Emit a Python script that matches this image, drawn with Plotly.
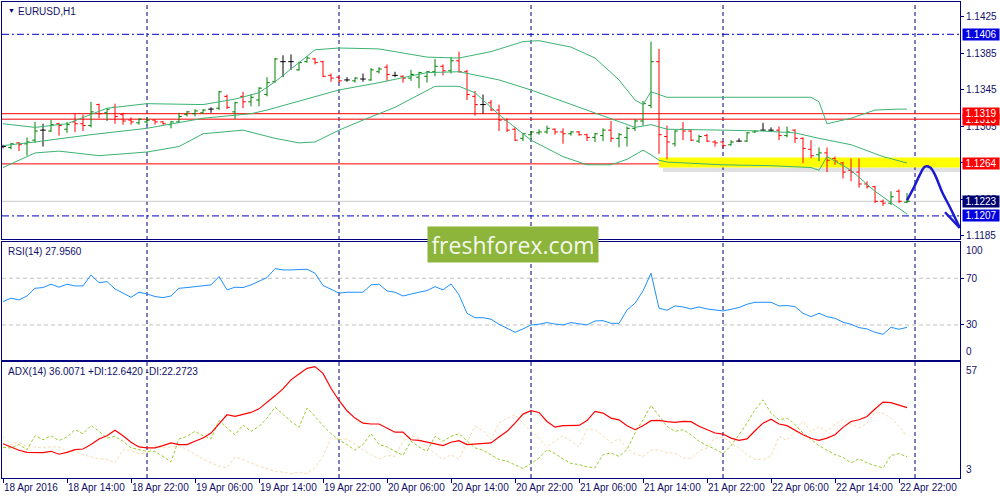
import numpy as np
import pandas as pd
import plotly.graph_objects as go
from plotly.subplots import make_subplots

# EURUSD H1 bars, 18 Apr 2016 06:00 .. 22 Apr 2016 23:00
bar_time = pd.date_range("2016-04-18 06:00", periods=114, freq="h")

opens = [1.1283, 1.1282, 1.1287, 1.1286, 1.1290, 1.1301, 1.1300, 1.1308, 1.1302, 1.1310,
         1.1308, 1.1306, 1.1329, 1.1320, 1.1326, 1.1318, 1.1312, 1.1309, 1.1310, 1.1312,
         1.1310, 1.1307, 1.1310, 1.1318, 1.1319, 1.1320, 1.1324, 1.1325, 1.1338, 1.1321,
         1.1338, 1.1332, 1.1334, 1.1340, 1.1354, 1.1376, 1.1376, 1.1367, 1.1376, 1.1379,
         1.1376, 1.1361, 1.1359, 1.1356, 1.1355, 1.1357, 1.1356, 1.1365, 1.1370, 1.1361,
         1.1360, 1.1358, 1.1359, 1.1360, 1.1365, 1.1371, 1.1366, 1.1377, 1.1365, 1.1338,
         1.1329, 1.1331, 1.1323, 1.1312, 1.1302, 1.1292, 1.1296, 1.1298, 1.1299, 1.1302,
         1.1299, 1.1297, 1.1299, 1.1296, 1.1293, 1.1295, 1.1301, 1.1292, 1.1293, 1.1303,
         1.1311, 1.1328, 1.1376, 1.1294, 1.1286, 1.1302, 1.1300, 1.1289, 1.1295, 1.1288,
         1.1288, 1.1285, 1.1289, 1.1289, 1.1299, 1.1301, 1.1301, 1.1301, 1.1295, 1.1301,
         1.1292, 1.1280, 1.1274, 1.1276, 1.1270, 1.1265, 1.1257, 1.1255, 1.1242, 1.1239,
         1.1223, 1.1221, 1.1234, 1.1222]
highs = [1.1285, 1.1287, 1.1288, 1.1293, 1.1310, 1.1308, 1.1312, 1.1309, 1.1310, 1.1319,
         1.1318, 1.1332, 1.1330, 1.1325, 1.1330, 1.1320, 1.1315, 1.1314, 1.1315, 1.1313,
         1.1311, 1.1311, 1.1320, 1.1322, 1.1324, 1.1324, 1.1326, 1.1344, 1.1340, 1.1332,
         1.1343, 1.1340, 1.1348, 1.1359, 1.1380, 1.1383, 1.1384, 1.1376, 1.1382, 1.1380,
         1.1377, 1.1363, 1.1360, 1.1359, 1.1359, 1.1363, 1.1369, 1.1370, 1.1373, 1.1365,
         1.1361, 1.1367, 1.1365, 1.1366, 1.1379, 1.1373, 1.1381, 1.1387, 1.1367, 1.1344,
         1.1340, 1.1334, 1.1329, 1.1314, 1.1304, 1.1298, 1.1300, 1.1302, 1.1306, 1.1303,
         1.1303, 1.1300, 1.1300, 1.1297, 1.1298, 1.1303, 1.1311, 1.1298, 1.1305, 1.1313,
         1.1333, 1.1398, 1.1390, 1.1306, 1.1301, 1.1310, 1.1302, 1.1296, 1.1297, 1.1290,
         1.1289, 1.1290, 1.1292, 1.1299, 1.1301, 1.1309, 1.1304, 1.1305, 1.1305, 1.1302,
         1.1293, 1.1290, 1.1282, 1.1282, 1.1272, 1.1266, 1.1270, 1.1270, 1.1245, 1.1240,
         1.1225, 1.1234, 1.1236, 1.1232]
lows = [1.1281, 1.1280, 1.1278, 1.1273, 1.1287, 1.1283, 1.1299, 1.1295, 1.1298, 1.1299,
        1.1300, 1.1304, 1.1314, 1.1311, 1.1308, 1.1307, 1.1307, 1.1307, 1.1307, 1.1307,
        1.1307, 1.1303, 1.1309, 1.1316, 1.1316, 1.1319, 1.1320, 1.1323, 1.1324, 1.1313,
        1.1325, 1.1327, 1.1327, 1.1338, 1.1353, 1.1359, 1.1367, 1.1366, 1.1375, 1.1373,
        1.1359, 1.1354, 1.1353, 1.1354, 1.1353, 1.1354, 1.1355, 1.1363, 1.1355, 1.1359,
        1.1353, 1.1355, 1.1347, 1.1353, 1.1360, 1.1361, 1.1363, 1.1364, 1.1334, 1.1317,
        1.1319, 1.1322, 1.1300, 1.1299, 1.1289, 1.1289, 1.1291, 1.1296, 1.1297, 1.1296,
        1.1286, 1.1295, 1.1295, 1.1289, 1.1288, 1.1289, 1.1288, 1.1282, 1.1283, 1.1300,
        1.1306, 1.1325, 1.1275, 1.1269, 1.1283, 1.1290, 1.1289, 1.1287, 1.1288, 1.1283,
        1.1281, 1.1284, 1.1288, 1.1288, 1.1298, 1.1300, 1.1299, 1.1290, 1.1293, 1.1287,
        1.1265, 1.1270, 1.1267, 1.1255, 1.1263, 1.1248, 1.1245, 1.1238, 1.1237, 1.1221,
        1.1218, 1.1219, 1.1221, 1.1221]
closes = [1.1283, 1.1286, 1.1285, 1.1288, 1.1300, 1.1301, 1.1307, 1.1306, 1.1307, 1.1308,
          1.1306, 1.1321, 1.1319, 1.1324, 1.1316, 1.1311, 1.1310, 1.1313, 1.1312, 1.1310,
          1.1308, 1.1310, 1.1316, 1.1321, 1.1322, 1.1323, 1.1324, 1.1343, 1.1326, 1.1331,
          1.1332, 1.1337, 1.1347, 1.1353, 1.1379, 1.1376, 1.1376, 1.1375, 1.1380, 1.1375,
          1.1360, 1.1358, 1.1355, 1.1356, 1.1358, 1.1357, 1.1367, 1.1368, 1.1362, 1.1361,
          1.1358, 1.1362, 1.1364, 1.1365, 1.1371, 1.1366, 1.1377, 1.1365, 1.1340, 1.1329,
          1.1329, 1.1323, 1.1312, 1.1301, 1.1290, 1.1297, 1.1299, 1.1299, 1.1303, 1.1299,
          1.1297, 1.1299, 1.1296, 1.1293, 1.1297, 1.1301, 1.1292, 1.1296, 1.1303, 1.1311,
          1.1330, 1.1376, 1.1296, 1.1288, 1.1300, 1.1300, 1.1290, 1.1294, 1.1289, 1.1287,
          1.1284, 1.1288, 1.1289, 1.1298, 1.1300, 1.1301, 1.1301, 1.1295, 1.1299, 1.1292,
          1.1281, 1.1273, 1.1276, 1.1268, 1.1267, 1.1255, 1.1255, 1.1242, 1.1239, 1.1223,
          1.1221, 1.1228, 1.1223, 1.1223]

# Bollinger bands, read at selected bars
bb_upper_bar = [0, 4, 8, 13, 18, 25, 29, 32, 34, 37, 39, 42, 47, 53, 57, 61, 65, 67, 71, 74,
                77, 79, 80, 81, 83, 90, 101, 102, 103, 106, 109, 112, 113]
bb_upper = [1.1308, 1.1304, 1.1308, 1.1325, 1.1330, 1.1329, 1.1335, 1.1342, 1.1354, 1.1375,
            1.1389, 1.1391, 1.1390, 1.1381, 1.1380, 1.1387, 1.1398, 1.1399, 1.1392, 1.1380,
            1.1356, 1.1334, 1.1329, 1.1343, 1.1337, 1.1337, 1.1337, 1.1332, 1.1308, 1.1314,
            1.1323, 1.1324, 1.1324]
bb_mid_bar = [0, 4, 11, 18, 25, 31, 33, 42, 47, 53, 57, 62, 66, 72, 76, 79, 81, 83, 90, 95,
              99, 102, 106, 110, 113]
bb_mid = [1.1284, 1.1288, 1.1296, 1.1303, 1.1314, 1.1319, 1.1323, 1.1345, 1.1353, 1.1364,
          1.1365, 1.1356, 1.1345, 1.1326, 1.1314, 1.1304, 1.1307, 1.1302, 1.1301, 1.1300,
          1.1298, 1.1292, 1.1285, 1.1272, 1.1265]
bb_lower_bar = [0, 4, 7, 12, 18, 22, 25, 30, 34, 37, 39, 42, 45, 49, 54, 57, 59, 62, 66, 70,
                73, 76, 78, 80, 81, 82, 83, 90, 96, 101, 102, 103, 106, 109, 113]
bb_lower = [1.1260, 1.1276, 1.1278, 1.1273, 1.1277, 1.1283, 1.1297, 1.1301, 1.1292, 1.1287,
            1.1288, 1.1301, 1.1312, 1.1326, 1.1349, 1.1349, 1.1342, 1.1318, 1.1290, 1.1272,
            1.1263, 1.1263, 1.1269, 1.1279, 1.1274, 1.1268, 1.1266, 1.1263, 1.1262, 1.1260,
            1.1257, 1.1272, 1.1257, 1.1234, 1.1209]

rsi = [50.0, 52.9, 51.4, 54.8, 61.4, 62.0, 64.9, 62.3, 64.9, 63.4,
       63.4, 72.8, 66.2, 67.1, 60.8, 57.2, 53.7, 58.0, 56.6, 54.3,
       53.4, 54.8, 61.4, 62.0, 62.8, 63.4, 64.3, 71.4, 60.0, 62.3,
       62.0, 64.3, 67.1, 70.5, 78.2, 77.1, 77.1, 77.1, 77.7, 74.3,
       63.7, 60.6, 57.2, 58.0, 58.0, 58.0, 64.3, 64.9, 59.1, 58.0,
       54.8, 56.6, 58.0, 59.4, 62.8, 60.0, 65.1, 55.7, 40.0, 36.2,
       36.2, 34.9, 30.6, 27.2, 23.7, 26.6, 30.0, 30.6, 32.0, 30.8,
       30.0, 32.0, 30.8, 30.0, 33.4, 33.7, 31.4, 31.4, 42.8, 48.6,
       59.1, 74.3, 44.3, 42.6, 46.3, 45.4, 43.7, 45.4, 43.7, 42.6,
       42.0, 43.4, 44.9, 47.7, 49.4, 49.4, 49.4, 46.3, 46.6, 45.7,
       40.0, 37.1, 40.0, 37.1, 35.7, 32.3, 30.6, 27.7, 26.6, 23.7,
       22.0, 28.0, 26.3, 27.96]

adx = [18.8, 17.1, 15.7, 14.7, 14.7, 14.6, 15.2, 13.8, 14.7, 16.0,
       16.3, 18.4, 21.1, 22.6, 25.2, 22.6, 19.5, 17.3, 16.8, 16.8,
       17.9, 19.2, 18.4, 18.4, 20.0, 21.5, 23.9, 28.2, 32.6, 31.8,
       32.9, 33.7, 35.4, 38.4, 41.6, 44.9, 49.2, 52.0, 54.7, 55.5,
       52.3, 45.2, 39.4, 34.5, 31.0, 28.6, 28.2, 28.2, 26.3, 24.3,
       24.3, 20.7, 20.4, 19.6, 18.7, 17.9, 19.5, 20.3, 18.4, 18.7,
       18.7, 19.2, 22.0, 24.7, 28.6, 32.9, 34.5, 33.7, 29.4, 26.7,
       27.4, 27.5, 27.5, 29.8, 34.2, 33.4, 31.0, 30.2, 27.4, 25.5,
       27.4, 29.8, 29.9, 29.3, 29.0, 29.4, 29.3, 27.1, 25.5, 23.9,
       23.4, 21.5, 20.4, 21.1, 25.0, 28.6, 30.5, 28.2, 27.4, 25.2,
       23.1, 21.4, 20.4, 21.5, 23.1, 26.6, 29.4, 30.2, 31.8, 35.3,
       38.6, 38.4, 37.3, 36.0]
plus_di = [17.1, 16.8, 18.4, 16.0, 22.6, 20.7, 22.6, 20.3, 22.0, 25.5,
           23.6, 27.5, 24.7, 21.5, 22.3, 20.0, 16.8, 16.0, 15.2, 15.2,
           12.8, 10.2, 21.1, 22.3, 24.7, 22.6, 21.1, 29.9, 26.3, 23.1,
           27.7, 24.7, 27.1, 31.0, 36.2, 32.6, 29.4, 26.7, 35.8, 31.8,
           27.4, 23.6, 20.7, 18.4, 15.7, 18.4, 23.6, 18.4, 17.3, 15.2,
           13.3, 20.0, 17.3, 15.2, 22.3, 20.0, 22.3, 23.6, 20.0, 16.8,
           15.7, 13.6, 11.3, 10.5, 8.9, 7.0, 9.4, 12.0, 16.0, 14.1,
           11.6, 9.4, 8.9, 7.8, 7.3, 13.6, 14.4, 12.8, 16.0, 23.9,
           30.2, 37.0, 32.1, 27.1, 24.7, 25.5, 23.1, 20.0, 17.9, 16.3,
           14.1, 17.9, 23.1, 28.6, 34.9, 39.7, 33.4, 30.2, 31.0, 27.9,
           23.9, 21.1, 17.9, 15.7, 13.6, 12.4, 9.7, 11.6, 9.7, 8.4,
           7.3, 13.2, 14.1, 12.64]
minus_di = [22.3, 18.4, 19.5, 17.3, 17.3, 16.8, 17.3, 17.3, 15.2, 15.2,
            13.6, 12.5, 11.6, 11.3, 9.7, 16.0, 15.7, 14.0, 14.4, 17.9,
            16.8, 17.3, 17.9, 16.0, 13.6, 11.6, 9.7, 8.1, 7.3, 12.5,
            11.3, 9.7, 8.1, 7.0, 5.7, 5.3, 4.5, 5.3, 4.6, 7.3,
            12.8, 21.5, 20.7, 21.1, 18.4, 16.0, 13.6, 11.6, 13.2, 12.8,
            20.0, 22.6, 21.5, 17.3, 14.1, 11.3, 13.6, 11.3, 19.5, 27.1,
            25.2, 20.7, 28.6, 31.0, 32.6, 28.6, 24.7, 21.5, 17.3, 20.0,
            22.6, 20.0, 17.3, 25.8, 25.5, 22.6, 19.2, 21.2, 16.3, 14.0,
            12.8, 15.7, 16.0, 14.4, 14.4, 12.0, 11.9, 15.2, 16.8, 21.5,
            22.0, 19.2, 16.8, 13.6, 11.3, 11.3, 12.8, 22.3, 20.4, 24.7,
            29.6, 24.3, 27.1, 24.7, 27.9, 30.5, 27.9, 26.3, 28.6, 33.7,
            33.4, 31.0, 27.1, 22.27]

tick_labels = ["18 Apr 2016", "18 Apr 14:00", "18 Apr 22:00", "19 Apr 06:00", "19 Apr 14:00",
               "19 Apr 22:00", "20 Apr 06:00", "20 Apr 14:00", "20 Apr 22:00", "21 Apr 06:00",
               "21 Apr 14:00", "21 Apr 22:00", "22 Apr 06:00", "22 Apr 14:00", "22 Apr 22:00"]
tick_times = bar_time[::8]
day_separators = ["2016-04-19", "2016-04-20", "2016-04-21", "2016-04-22", "2016-04-23"]
price_ticks = [1.1185, 1.1225, 1.1265, 1.1305, 1.1345, 1.1385, 1.1425]
rsi_levels = [30, 70]
rsi_min_max = ["0", "100"]
adx_min_max = ["3", "57"]

# drawing objects
red_levels = [1.1313, 1.1319, 1.1264]
blue_levels = [1.1406, 1.1207]
bid_price = 1.1223
zone_start = "2016-04-21 16:00"
zone_low, zone_high = 1.1260, 1.1271
arrow_time = ["2016-04-22 23:00", "2016-04-22 23:54", "2016-04-23 00:36", "2016-04-23 01:15",
              "2016-04-23 01:54", "2016-04-23 02:30", "2016-04-23 03:24", "2016-04-23 04:24",
              "2016-04-23 05:00", "2016-04-23 05:36"]
arrow_price = [1.1224, 1.1239, 1.1252, 1.1261, 1.1260, 1.1252, 1.1233, 1.1216, 1.1205, 1.1194]
arrow_head_time = ["2016-04-23 03:45", "2016-04-23 05:36"]
arrow_head_price = [1.1211, 1.1194]

x_range = ["2016-04-18 05:52:30", "2016-04-23 05:37:30"]
NAVY = "#000080"
TXT = "#10106a"
FONT = "Liberation Sans, Arial, sans-serif"

fig = make_subplots(rows=3, cols=1, shared_xaxes=True)

o = np.array(opens)
c = np.array(closes)
groups = [(c > o, "#008000"), (c < o, "#ff0000"), (c == o, "#000000")]
for mask, col in groups:
    idx = np.where(mask)[0]
    fig.add_trace(go.Ohlc(x=bar_time[idx], open=o[idx], high=np.array(highs)[idx],
                          low=np.array(lows)[idx], close=c[idx],
                          increasing_line_color=col, decreasing_line_color=col,
                          line_width=1, tickwidth=0.35, hoverinfo="skip"), row=1, col=1)

for bars, vals in [(bb_upper_bar, bb_upper), (bb_mid_bar, bb_mid), (bb_lower_bar, bb_lower)]:
    fig.add_trace(go.Scatter(x=bar_time[bars], y=vals, mode="lines",
                             line=dict(color="#3cb371", width=1)), row=1, col=1)

fig.add_trace(go.Scatter(x=arrow_time, y=arrow_price, mode="lines",
                         line=dict(color="#1a1ad0", width=2.5, shape="spline")), row=1, col=1)
fig.add_trace(go.Scatter(x=arrow_head_time, y=arrow_head_price, mode="lines",
                         line=dict(color="#1a1ad0", width=2.5)), row=1, col=1)

fig.add_trace(go.Scatter(x=bar_time, y=rsi, mode="lines",
                         line=dict(color="#1e90ff", width=1)), row=2, col=1)

fig.add_trace(go.Scatter(x=bar_time, y=minus_di, mode="lines",
                         line=dict(color="#f5deb3", width=1, dash="3px,2px")), row=3, col=1)
fig.add_trace(go.Scatter(x=bar_time, y=plus_di, mode="lines",
                         line=dict(color="#9acd32", width=1, dash="3px,2px")), row=3, col=1)
fig.add_trace(go.Scatter(x=bar_time, y=adx, mode="lines",
                         line=dict(color="#ff0000", width=1.2)), row=3, col=1)

shapes = []
# period separators
for d in day_separators:
    shapes.append(dict(type="line", xref="x", yref="paper", x0=d, x1=d, y0=0, y1=1,
                       layer="below", line=dict(color=NAVY, width=1, dash="4px,3px")))
# support zone with soft shadow
shapes.append(dict(type="rect", xref="x", yref="y", x0="2016-04-21 16:30", x1=x_range[1],
                   y0=zone_low - 0.0005, y1=zone_low, layer="below", line_width=0,
                   fillcolor="rgba(0,0,0,0.12)"))
shapes.append(dict(type="rect", xref="x", yref="y", x0=zone_start, x1=x_range[1],
                   y0=zone_low, y1=zone_high, layer="below", line_width=0, fillcolor="#ffff00"))
for lv in red_levels:
    shapes.append(dict(type="line", xref="x domain", yref="y", x0=0, x1=1, y0=lv, y1=lv,
                       layer="below", line=dict(color="#ff0000", width=1)))
for lv in blue_levels:
    shapes.append(dict(type="line", xref="x domain", yref="y", x0=0, x1=1, y0=lv, y1=lv,
                       layer="below", line=dict(color="#0000c8", width=1, dash="7px,3px,2px,3px")))
shapes.append(dict(type="line", xref="x domain", yref="y", x0=0, x1=1, y0=bid_price, y1=bid_price,
                   layer="below", line=dict(color="#c8c8c8", width=1)))
for lv in rsi_levels:
    shapes.append(dict(type="line", xref="x2 domain", yref="y2", x0=0, x1=1, y0=lv, y1=lv,
                       layer="below", line=dict(color="#c0c0c0", width=1, dash="4px,3px")))

annotations = []
price_boxes = [("1.1406", 1.1406, "#0000e0"), ("1.1313", 1.1313, "#ff0000"),
               ("1.1319", 1.1319, "#ff0000"), ("1.1264", 1.1264, "#ff0000"),
               ("1.1223", 1.1223, "#000070"), ("1.1207", 1.1207, "#0000e0")]
for txt, lv, col in price_boxes:
    annotations.append(dict(text=txt, xref="paper", yref="y", x=1, y=lv, xanchor="left",
                            xshift=2, showarrow=False, bgcolor=col, width=36, height=11,
                            borderpad=0, font=dict(color="white", size=10, family=FONT)))
# min / max labels of the indicator windows sit just inside the window edges
for axis, labels in [("y2", rsi_min_max), ("y3", adx_min_max)]:
    for pos, txt in zip([0, 1], labels):
        annotations.append(dict(text=txt, xref="paper", yref=axis + " domain", x=1, y=pos,
                                xanchor="left", yanchor="bottom" if pos == 0 else "top",
                                xshift=4, yshift=1 if pos == 0 else -1, showarrow=False,
                                font=dict(color=TXT, size=10, family=FONT)))
annotations.append(dict(text="\u25bc", xref="x domain", yref="y domain", x=0, y=1,
                        xanchor="left", yanchor="top", xshift=4, yshift=-3, showarrow=False,
                        font=dict(color=NAVY, size=7, family=FONT)))
annotations.append(dict(text="EURUSD,H1", xref="x domain", yref="y domain", x=0, y=1,
                        xanchor="left", yanchor="top", xshift=14, yshift=-2, showarrow=False,
                        font=dict(color=TXT, size=10, family=FONT)))
annotations.append(dict(text="RSI(14) 27.9560", xref="x2 domain", yref="y2 domain", x=0, y=1,
                        xanchor="left", yanchor="top", xshift=4, yshift=-2, showarrow=False,
                        font=dict(color=TXT, size=10, family=FONT)))
annotations.append(dict(text="ADX(14) 36.0071 +DI:12.6420 -DI:22.2723", xref="x3 domain",
                        yref="y3 domain", x=0, y=1, xanchor="left", yanchor="top", xshift=4,
                        yshift=-2, showarrow=False, font=dict(color=TXT, size=10, family=FONT)))
annotations.append(dict(text="freshforex.com", xref="paper", yref="paper", x=0.5334, y=0.4895,
                        xanchor="center", yanchor="middle", showarrow=False, width=170, height=35,
                        bgcolor="#8db53c", borderpad=0,
                        font=dict(color="rgba(255,255,255,0.93)", size=23, family="Open Sans")))

fig.update_layout(
    width=1000, height=500,
    margin=dict(l=2, r=40, t=2, b=22),
    paper_bgcolor="white", plot_bgcolor="rgba(0,0,0,0)",
    showlegend=False, hovermode=False,
    font=dict(family=FONT, size=10, color=TXT),
    shapes=shapes, annotations=annotations,
    yaxis=dict(domain=[0.5021, 1.0]),
    yaxis2=dict(domain=[0.2479, 0.4958]),
    yaxis3=dict(domain=[0.0, 0.2437]),
)
fig.update_xaxes(range=x_range, showgrid=False, zeroline=False, rangeslider_visible=False,
                 showline=True, mirror=True, linecolor=NAVY, linewidth=1,
                 showticklabels=False, ticks="", automargin=False)
fig.update_xaxes(row=3, col=1, showticklabels=True, ticks="outside", ticklen=4, tickcolor=NAVY,
                 tickvals=tick_times, ticktext=tick_labels, ticklabelposition="outside right",
                 tickangle=0, ticklabeloverflow="allow",
                 tickfont=dict(size=10, color=TXT, family=FONT))
fig.update_yaxes(side="right", showgrid=False, zeroline=False, showline=True, mirror=True,
                 linecolor=NAVY, linewidth=1, ticks="outside", ticklen=3, tickcolor=NAVY,
                 automargin=False, ticklabeloverflow="allow",
                 tickfont=dict(size=10, color=TXT, family=FONT))
fig.update_yaxes(row=1, col=1, range=[1.11817, 1.14414], tickvals=price_ticks, tickformat=".4f")
fig.update_yaxes(row=2, col=1, range=[0, 101], tickvals=rsi_levels)
fig.update_yaxes(row=3, col=1, range=[2.5, 57.7], tickvals=[])

# drop the default page margin so the figure fills the 1000x500 window
fig.write_html("out.html", config={"displayModeBar": False},
               post_script="document.body.style.margin='0';")
